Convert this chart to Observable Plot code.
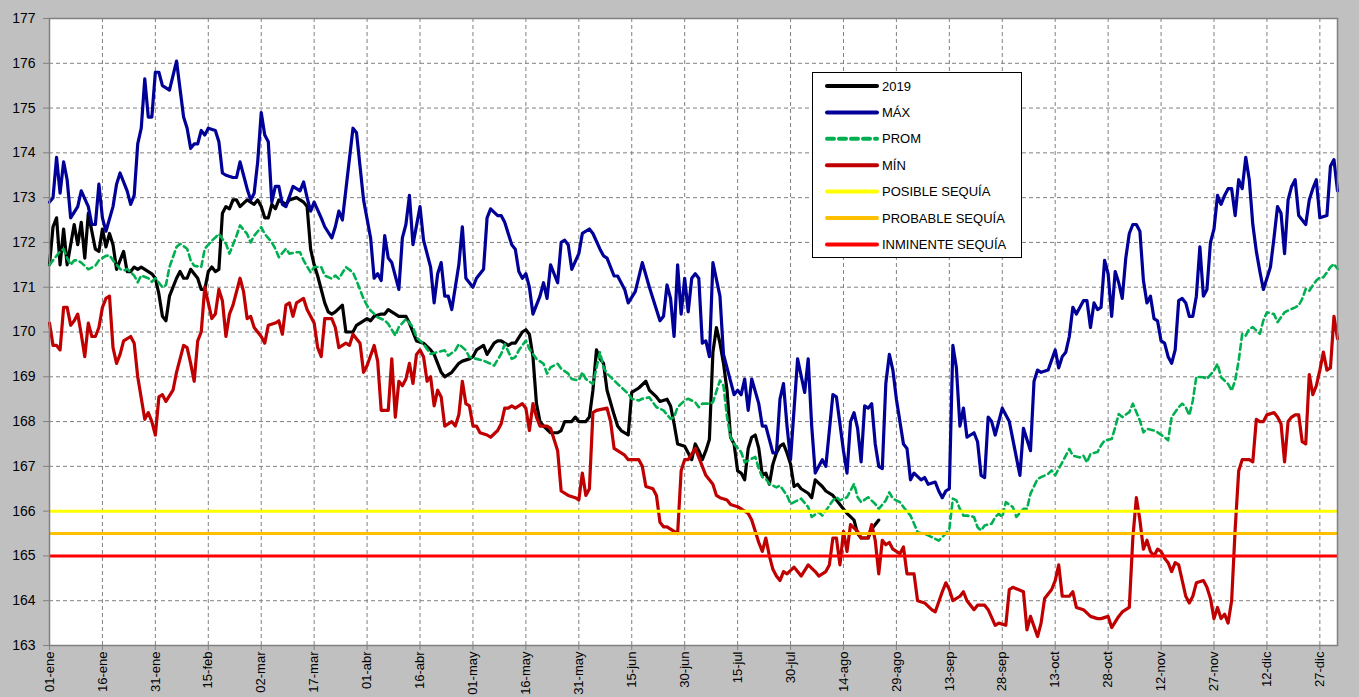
<!DOCTYPE html>
<html><head><meta charset="utf-8">
<script src="https://cdn.jsdelivr.net/npm/d3@7"></script>
<script src="https://cdn.jsdelivr.net/npm/@observablehq/plot@0.6"></script>
<style>
body{margin:0;background:#c0c0c0;font-family:"Liberation Sans",Arial,sans-serif;}
#wrap{position:relative;width:1359px;height:697px;overflow:hidden;background:#c0c0c0;}
#legend{position:absolute;left:812px;top:72px;width:208px;height:184px;background:#fff;border:1px solid #000;}
</style></head>
<body><div id="wrap"><div id="chart"></div><svg id="legend"></svg></div>
<script>
// x positions are day of year (0 = 01-ene)
const tickDays = [0,15,30,45,60,75,90,105,120,135,150,165,180,195,210,225,240,255,270,285,300,315,330,345,360];
const tickLabels = ["01-ene","16-ene","31-ene","15-feb","02-mar","17-mar","01-abr","16-abr","01-may","16-may","31-may","15-jun","30-jun","15-jul","30-jul","14-ago","29-ago","13-sep","28-sep","13-oct","28-oct","12-nov","27-nov","12-dic","27-dic"];
const yTicks = [163,164,165,166,167,168,169,170,171,172,173,174,175,176,177];

const thresholdValues = [166, 165.5, 165];
const thresholdNames = ["POSIBLE SEQUÍA","PROBABLE SEQUÍA","INMINENTE SEQUÍA"];
const seriesNames = ["2019","MÁX","PROM","MÍN"];

const serie2019 = [[0,171.5],[1,172.35],[2,172.55],[3,171.5],[4,172.3],[5,171.5],[7,172.4],[8,171.95],[9,172.45],[10,171.65],[11,172.65],[12,172.25],[13,171.85],[14,171.8],[15,172.3],[16,171.9],[17,172.2],[18,171.95],[19,171.4],[21,171.8],[22,171.35],[23,171.35],[24,171.45],[25,171.4],[26,171.45],[27,171.4],[28,171.35],[29,171.3],[30,171.2],[31,170.85],[32,170.35],[33,170.25],[34,170.8],[36,171.2],[37,171.35],[38,171.2],[39,171.2],[40,171.4],[42,171.2],[43,170.95],[44,170.95],[45,171.35],[46,171.45],[47,171.35],[48,171.4],[49,172.65],[50,172.8],[51,172.75],[52,172.95],[53,172.95],[54,172.8],[56,172.95],[58,172.85],[59,172.95],[60,172.8],[61,172.55],[62,172.55],[63,172.85],[64,172.75],[65,172.95],[67,172.85],[68,172.95],[70,173.0],[72,172.9],[73,172.8],[74,171.85],[75,171.5],[76,171.25],[78,170.65],[79,170.45],[80,170.4],[81,170.45],[83,170.6],[84,170.0],[86,170.0],[87,170.15],[89,170.25],[90,170.3],[91,170.25],[92,170.35],[94,170.4],[95,170.4],[96,170.5],[98,170.4],[99,170.35],[101,170.35],[102,170.2],[104,169.8],[106,169.75],[108,169.6],[109,169.5],[110,169.3],[111,169.1],[112,169.0],[114,169.1],[115,169.2],[116,169.3],[117,169.35],[119,169.4],[120,169.45],[121,169.6],[123,169.7],[124,169.5],[126,169.75],[127,169.8],[128,169.8],[130,169.7],[131,169.75],[132,169.75],[134,170.0],[135,170.05],[136,169.95],[137,169.45],[138,168.4],[139,168.0],[140,167.9],[142,167.75],[144,167.75],[145,167.8],[146,168.0],[148,168.0],[149,168.1],[150,168.0],[152,168.0],[153,168.1],[154,168.7],[155,169.6],[156,169.4],[157,169.3],[158,168.7],[160,168.15],[161,167.9],[162,167.8],[164,167.7],[165,168.65],[167,168.75],[169,168.9],[170,168.7],[172,168.55],[173,168.45],[175,168.5],[176,168.35],[177,167.95],[178,167.5],[180,167.45],[181,167.3],[182,167.15],[183,167.5],[184,167.35],[185,167.15],[186,167.35],[187,167.6],[188,169.55],[189,170.1],[190,169.75],[191,169.3],[192,168.7],[193,167.65],[194,167.5],[195,166.9],[196,166.85],[197,166.7],[198,167.4],[199,167.65],[200,167.7],[201,167.4],[202,166.8],[203,166.85],[204,166.6],[205,167.05],[206,167.3],[207,167.45],[208,167.5],[209,167.3],[210,167.05],[211,166.55],[212,166.6],[213,166.5],[215,166.4],[216,166.3],[217,166.7],[219,166.55],[220,166.45],[222,166.35],[224,166.15],[225,166.05],[226,165.95],[228,165.8],[229,165.5],[230,165.4],[232,165.4],[233,165.6],[235,165.8]];

const serieMax = [[0,172.9],[1,173.0],[2,173.9],[3,173.1],[4,173.8],[5,173.4],[6,172.55],[8,172.8],[9,173.15],[11,172.8],[12,172.4],[13,172.4],[14,173.3],[15,172.55],[16,172.25],[18,172.8],[19,173.3],[20,173.55],[22,173.15],[23,172.85],[24,173.05],[25,174.2],[26,174.55],[27,175.65],[28,174.8],[29,174.8],[30,175.8],[31,175.8],[32,175.5],[34,175.4],[36,176.05],[38,174.8],[39,174.55],[40,174.1],[41,174.2],[42,174.2],[43,174.5],[44,174.4],[45,174.55],[47,174.5],[48,174.25],[49,173.55],[50,173.5],[52,173.45],[53,173.45],[54,173.8],[55,173.5],[56,173.2],[57,172.95],[58,173.1],[59,173.8],[60,174.9],[61,174.4],[62,174.25],[63,172.9],[64,173.25],[65,173.25],[66,172.85],[67,172.8],[69,173.25],[71,173.15],[72,173.35],[73,173.0],[74,172.7],[75,172.9],[77,172.55],[78,172.35],[80,172.1],[81,172.35],[82,172.7],[83,172.5],[86,174.55],[87,174.45],[89,172.95],[91,172.1],[92,171.2],[93,171.3],[94,171.15],[95,172.15],[96,171.65],[97,171.55],[99,170.95],[100,172.1],[101,172.4],[102,173.05],[103,171.95],[105,172.8],[106,172.05],[108,171.45],[109,170.65],[110,171.3],[111,171.55],[112,170.8],[113,170.8],[114,170.5],[116,171.5],[117,172.35],[118,171.2],[120,171.0],[121,171.2],[123,171.4],[124,172.55],[125,172.75],[127,172.6],[128,172.6],[129,172.45],[131,171.95],[132,171.85],[133,171.35],[134,171.2],[135,171.3],[136,171.0],[137,170.4],[139,170.8],[140,171.1],[141,170.75],[142,171.5],[144,171.1],[145,172.0],[146,172.05],[147,171.95],[148,171.4],[150,171.75],[151,172.2],[153,172.3],[154,172.2],[156,171.85],[157,171.7],[158,171.65],[160,171.25],[161,171.25],[163,170.95],[164,170.65],[166,170.9],[168,171.55],[170,171.0],[173,170.25],[174,170.35],[175,171.05],[176,170.75],[177,169.9],[178,171.5],[179,170.4],[180,171.2],[181,170.45],[182,171.2],[183,171.3],[184,171.2],[185,169.75],[186,169.8],[187,169.45],[188,171.55],[190,170.8],[191,169.5],[194,168.6],[195,168.7],[196,168.6],[197,168.95],[198,168.25],[199,168.95],[201,168.4],[202,167.9],[203,167.9],[205,167.3],[206,167.3],[207,168.5],[208,168.85],[209,167.9],[210,167.15],[212,169.4],[214,168.65],[215,169.4],[216,167.9],[217,166.85],[218,167.0],[219,167.15],[220,167.0],[222,168.6],[223,168.55],[225,167.35],[226,166.85],[227,168.0],[228,168.2],[229,167.85],[230,167.1],[231,168.35],[232,168.3],[233,168.4],[234,167.5],[235,167.0],[236,166.95],[237,168.85],[238,169.5],[239,169.15],[240,168.5],[242,167.5],[243,167.4],[244,166.7],[245,166.85],[247,166.7],[248,166.75],[249,166.6],[251,166.65],[252,166.45],[253,166.3],[254,166.45],[255,166.5],[256,169.7],[257,169.2],[258,167.9],[259,168.3],[260,167.65],[262,167.75],[263,167.55],[264,166.8],[265,166.75],[266,168.1],[267,168.0],[268,167.7],[270,168.3],[272,168.0],[275,166.8],[276,167.85],[278,167.35],[279,168.9],[280,169.15],[281,169.1],[283,169.15],[285,169.6],[286,169.2],[287,169.45],[288,169.55],[289,169.9],[290,170.55],[291,170.4],[293,170.7],[294,170.7],[295,170.1],[296,170.65],[297,170.5],[298,170.55],[299,171.6],[300,171.3],[301,170.35],[302,171.35],[303,171.1],[304,170.75],[305,171.65],[306,172.2],[307,172.4],[308,172.4],[309,172.25],[310,171.15],[311,170.65],[312,170.8],[313,170.3],[314,170.25],[315,169.8],[316,169.75],[317,169.45],[318,169.3],[319,169.6],[320,170.7],[321,170.75],[322,170.65],[323,170.35],[324,170.35],[325,170.8],[326,171.9],[327,170.8],[328,170.95],[329,172.0],[330,172.3],[331,173.05],[332,172.85],[333,173.05],[334,173.2],[335,173.2],[336,172.6],[337,173.4],[338,173.2],[339,173.9],[340,173.4],[341,172.4],[342,171.8],[343,171.35],[344,170.95],[345,171.2],[346,171.45],[347,172.1],[348,172.8],[349,172.65],[350,171.75],[351,172.95],[352,173.25],[353,173.4],[354,172.6],[355,172.5],[356,172.4],[357,172.95],[358,173.2],[359,173.4],[360,172.55],[362,172.6],[363,173.7],[364,173.85],[365,173.15]];

const serieProm = [[0,171.5],[2,171.7],[3,171.8],[4,171.85],[5,171.65],[6,171.5],[7,171.6],[8,171.6],[9,171.55],[11,171.4],[13,171.48],[14,171.6],[16,171.7],[17,171.71],[18,171.6],[20,171.41],[21,171.37],[22,171.41],[24,171.26],[25,171.11],[26,171.26],[28,171.2],[29,171.12],[30,171.2],[32,171.0],[33,171.05],[34,171.45],[36,171.9],[37,171.97],[39,171.86],[40,171.6],[41,171.48],[43,171.45],[44,171.86],[46,172.04],[47,172.11],[48,172.19],[50,171.97],[51,171.75],[53,172.15],[54,172.38],[56,172.19],[57,172.0],[58,172.15],[60,172.34],[61,172.19],[63,172.0],[64,171.86],[65,171.67],[67,171.86],[68,171.75],[70,171.78],[71,171.78],[72,171.6],[74,171.33],[75,171.45],[77,171.45],[78,171.26],[80,171.19],[81,171.26],[82,171.19],[84,171.45],[86,171.33],[87,171.15],[89,170.74],[90,170.59],[91,170.48],[93,170.33],[95,170.26],[96,170.18],[98,169.92],[99,170.11],[101,170.29],[103,170.11],[104,169.88],[106,169.73],[108,169.51],[110,169.55],[112,169.59],[113,169.47],[115,169.59],[116,169.73],[118,169.59],[119,169.44],[121,169.4],[123,169.36],[125,169.29],[126,169.25],[128,169.51],[129,169.73],[131,169.4],[132,169.44],[133,169.59],[135,169.81],[136,169.62],[138,169.4],[140,169.29],[141,169.07],[142,169.21],[144,169.29],[145,169.18],[147,169.07],[148,168.95],[150,168.92],[151,169.1],[152,168.95],[154,168.84],[156,169.55],[157,169.21],[158,169.07],[160,168.92],[161,168.84],[162,168.77],[164,168.62],[165,168.51],[167,168.47],[168,168.51],[170,168.54],[172,168.32],[174,168.25],[176,168.06],[177,168.1],[178,168.32],[180,168.47],[181,168.51],[183,168.43],[184,168.32],[185,168.4],[187,168.4],[188,168.43],[190,168.92],[191,168.8],[192,168.1],[193,167.65],[194,167.5],[196,167.32],[197,167.09],[198,167.13],[200,167.21],[201,166.95],[202,166.76],[203,166.72],[204,166.61],[206,166.53],[207,166.57],[209,166.35],[210,166.16],[211,166.2],[213,166.28],[215,166.09],[216,165.87],[218,165.98],[219,165.9],[220,166.01],[222,166.24],[223,166.31],[224,166.24],[226,166.31],[228,166.61],[229,166.31],[230,166.2],[232,166.31],[234,166.16],[235,166.05],[237,166.24],[238,166.42],[239,166.28],[241,166.2],[242,166.09],[244,165.9],[245,165.72],[246,165.53],[248,165.49],[249,165.46],[251,165.38],[252,165.34],[254,165.5],[255,165.6],[256,166.28],[257,166.24],[258,166.05],[259,165.9],[260,165.9],[262,165.87],[263,165.64],[264,165.57],[265,165.68],[267,165.72],[268,165.87],[269,165.94],[270,165.87],[271,166.2],[273,166.09],[274,165.87],[276,166.05],[277,166.05],[278,166.39],[280,166.72],[281,166.76],[283,166.83],[284,166.91],[285,166.8],[287,167.09],[289,167.39],[290,167.24],[292,167.2],[293,167.24],[294,167.09],[295,167.28],[297,167.32],[298,167.47],[299,167.58],[301,167.61],[302,167.87],[303,168.17],[304,168.1],[306,168.21],[307,168.4],[309,168.02],[310,167.76],[311,167.84],[313,167.8],[314,167.76],[316,167.65],[317,167.58],[318,168.1],[320,168.32],[321,168.4],[322,168.32],[323,168.14],[324,168.47],[325,169.0],[327,168.99],[328,168.95],[330,169.14],[331,169.29],[332,168.99],[334,168.84],[335,168.69],[336,168.92],[337,169.36],[338,169.96],[339,169.92],[340,170.07],[341,170.11],[343,169.96],[344,170.26],[345,170.44],[347,170.4],[348,170.22],[350,170.44],[351,170.48],[353,170.55],[354,170.59],[355,170.74],[356,170.96],[357,170.92],[358,171.04],[359,171.15],[360,171.22],[361,171.22],[362,171.33],[363,171.45],[364,171.52],[365,171.41]];

const serieMin = [[0,170.2],[1,169.7],[2,169.7],[3,169.6],[4,170.55],[5,170.55],[6,170.15],[7,170.25],[8,170.4],[9,169.95],[10,169.45],[11,170.2],[12,169.9],[13,169.9],[14,170.1],[15,170.55],[16,170.75],[17,170.8],[18,169.65],[19,169.3],[20,169.5],[21,169.8],[23,169.9],[24,169.75],[25,169.0],[27,168.05],[28,168.2],[29,168.0],[30,167.7],[31,168.55],[32,168.6],[33,168.45],[35,168.7],[36,169.1],[38,169.7],[39,169.65],[40,169.3],[41,168.9],[42,169.8],[43,170.0],[44,171.0],[45,170.65],[46,170.3],[47,170.4],[48,170.95],[49,170.7],[50,169.9],[51,170.4],[52,170.6],[54,171.2],[55,170.9],[56,170.3],[57,170.35],[58,170.1],[60,169.9],[61,169.75],[62,170.15],[64,170.2],[65,170.25],[66,169.95],[67,170.6],[68,170.65],[69,170.35],[70,170.65],[71,170.7],[72,170.75],[73,170.5],[74,170.35],[75,170.2],[76,169.65],[77,169.45],[78,170.3],[80,170.3],[81,170.1],[82,169.65],[84,169.75],[85,169.7],[86,169.95],[88,169.75],[89,169.1],[90,169.25],[92,169.7],[93,169.35],[94,168.25],[96,168.25],[97,169.4],[98,168.1],[99,168.9],[100,168.8],[101,168.95],[102,169.3],[103,168.85],[104,169.5],[105,169.6],[106,169.45],[107,168.9],[108,169.0],[109,168.35],[110,168.7],[111,168.55],[112,167.9],[114,168.0],[115,167.9],[116,168.15],[117,168.9],[118,168.4],[119,168.35],[120,167.9],[121,167.9],[122,167.75],[124,167.7],[125,167.65],[127,167.8],[128,167.95],[129,168.3],[130,168.3],[131,168.35],[132,168.3],[134,168.4],[135,168.3],[136,167.8],[137,168.4],[138,168.1],[139,167.9],[141,167.9],[142,167.85],[143,167.6],[144,167.35],[145,166.45],[147,166.35],[149,166.3],[150,166.25],[151,166.85],[152,166.35],[153,166.5],[154,168.2],[155,168.25],[158,168.3],[159,168.0],[160,167.4],[162,167.3],[163,167.25],[164,167.15],[165,167.15],[167,167.15],[168,167.0],[169,166.55],[171,166.5],[172,166.35],[173,165.75],[174,165.65],[175,165.65],[176,165.6],[177,165.55],[178,165.5],[179,166.9],[180,167.15],[181,167.15],[183,167.4],[184,167.2],[185,167.0],[186,166.8],[188,166.6],[189,166.35],[190,166.3],[192,166.25],[193,166.15],[195,166.1],[196,166.05],[198,165.95],[199,165.8],[200,165.55],[201,165.3],[202,165.1],[203,165.4],[204,165.0],[205,164.7],[206,164.55],[207,164.45],[208,164.65],[209,164.6],[211,164.75],[212,164.65],[213,164.55],[215,164.8],[217,164.65],[218,164.55],[220,164.65],[221,164.8],[222,165.4],[223,165.4],[224,164.8],[225,165.55],[226,165.1],[227,165.7],[229,165.55],[230,165.4],[232,165.4],[233,165.7],[234,165.35],[235,164.6],[236,165.35],[237,165.25],[238,165.3],[239,165.15],[241,165.05],[242,165.2],[243,164.6],[245,164.6],[246,164.0],[248,163.95],[250,163.8],[251,163.75],[253,164.2],[254,164.4],[255,164.25],[256,164.0],[258,164.1],[259,164.2],[260,164.0],[262,163.8],[263,163.9],[265,163.9],[266,163.8],[268,163.45],[269,163.5],[271,163.45],[272,164.25],[273,164.3],[276,164.2],[277,163.35],[278,163.65],[280,163.2],[281,163.5],[282,164.05],[284,164.25],[285,164.45],[286,164.8],[287,164.1],[289,164.1],[290,164.2],[291,163.85],[293,163.8],[295,163.65],[297,163.6],[298,163.6],[300,163.65],[301,163.4],[303,163.65],[304,163.75],[306,163.85],[307,165.4],[308,166.3],[309,165.8],[310,165.15],[311,165.35],[312,165.1],[313,165.0],[314,165.15],[315,165.1],[316,164.95],[317,164.85],[318,164.65],[319,164.85],[320,164.8],[322,164.1],[323,163.95],[324,164.1],[325,164.4],[327,164.45],[328,164.3],[329,164.05],[330,163.6],[331,163.85],[332,163.6],[333,163.7],[334,163.5],[335,164.0],[336,165.6],[337,166.9],[338,167.15],[339,167.15],[340,167.15],[341,167.1],[342,168.05],[343,168.0],[344,168.0],[345,168.15],[347,168.2],[348,168.1],[349,167.95],[350,167.1],[351,168.0],[352,168.1],[353,168.15],[354,168.15],[355,167.55],[356,167.5],[357,169.05],[358,168.6],[359,168.8],[360,169.15],[361,169.55],[362,169.15],[363,169.2],[364,170.35],[365,169.85]];

const seriesColors = ["#000000","#000099","#00b050","#c00000"];
const thresholdColors = ["#ffff00","#ffc000","#ff0000"];

const gridStyle = {stroke:"#808080", strokeOpacity:1, strokeDasharray:"4,3", strokeWidth:1};
const X = d => d[0], Y = d => d[1];

const chart = Plot.plot({
  width: 1359, height: 697,
  marginLeft: 49, marginRight: 22, marginTop: 18, marginBottom: 52,
  style: {background:"#c0c0c0", fontFamily:"'Liberation Sans', Arial, sans-serif", fontSize:"14px", color:"#000", overflow:"visible"},
  x: {domain:[0,365]},
  y: {domain:[163,177]},
  marks: [
    Plot.frame({fill:"white", stroke:"none"}),
    Plot.gridY(yTicks, gridStyle),
    Plot.gridX(tickDays, gridStyle),
    Plot.axisY(yTicks, {tickSize:6, tickPadding:8, stroke:"#808080", fill:"#000", fontSize:14, label:null}),
    Plot.axisX(tickDays, {tickSize:5, tickPadding:1, tickRotate:-90, stroke:"#808080", fill:"#000", fontSize:13, label:null,
      tickFormat: d => tickLabels[tickDays.indexOf(d)]}),
    Plot.line(serie2019, {x:X, y:Y, stroke:seriesColors[0], strokeWidth:3.2, strokeLinejoin:"round"}),
    Plot.line(serieMax, {x:X, y:Y, stroke:seriesColors[1], strokeWidth:3.2, strokeLinejoin:"round"}),
    Plot.line(serieProm, {x:X, y:Y, stroke:seriesColors[2], strokeWidth:2.6, strokeDasharray:"6,4"}),
    Plot.line(serieMin, {x:X, y:Y, stroke:seriesColors[3], strokeWidth:3.2, strokeLinejoin:"round"}),
    Plot.ruleY([thresholdValues[0]], {stroke:thresholdColors[0], strokeWidth:3}),
    Plot.ruleY([thresholdValues[1]], {stroke:thresholdColors[1], strokeWidth:3}),
    Plot.ruleY([thresholdValues[2]], {stroke:thresholdColors[2], strokeWidth:3}),
    Plot.frame({stroke:"#808080", strokeWidth:1.5})
  ]
});
document.getElementById("chart").appendChild(chart);

// legend
const legendItems = seriesNames.map((n,i)=>({name:n, color:seriesColors[i], dash:i===2})).concat(
  thresholdNames.map((n,i)=>({name:n, color:thresholdColors[i], dash:false})));
const lg = d3.select("#legend");
legendItems.forEach((it,i)=>{
  const yy = 13 + i*26.4;
  lg.append("line").attr("x1",14).attr("x2",64).attr("y1",yy).attr("y2",yy)
    .attr("stroke",it.color).attr("stroke-width",4).attr("stroke-linecap","round")
    .attr("stroke-dasharray", it.dash ? "7,5" : null);
  lg.append("text").attr("x",69).attr("y",yy).attr("dy","0.36em")
    .attr("font-family","'Liberation Sans', Arial, sans-serif").attr("font-size",13).attr("fill","#000").text(it.name);
});
</script>
</body></html>
